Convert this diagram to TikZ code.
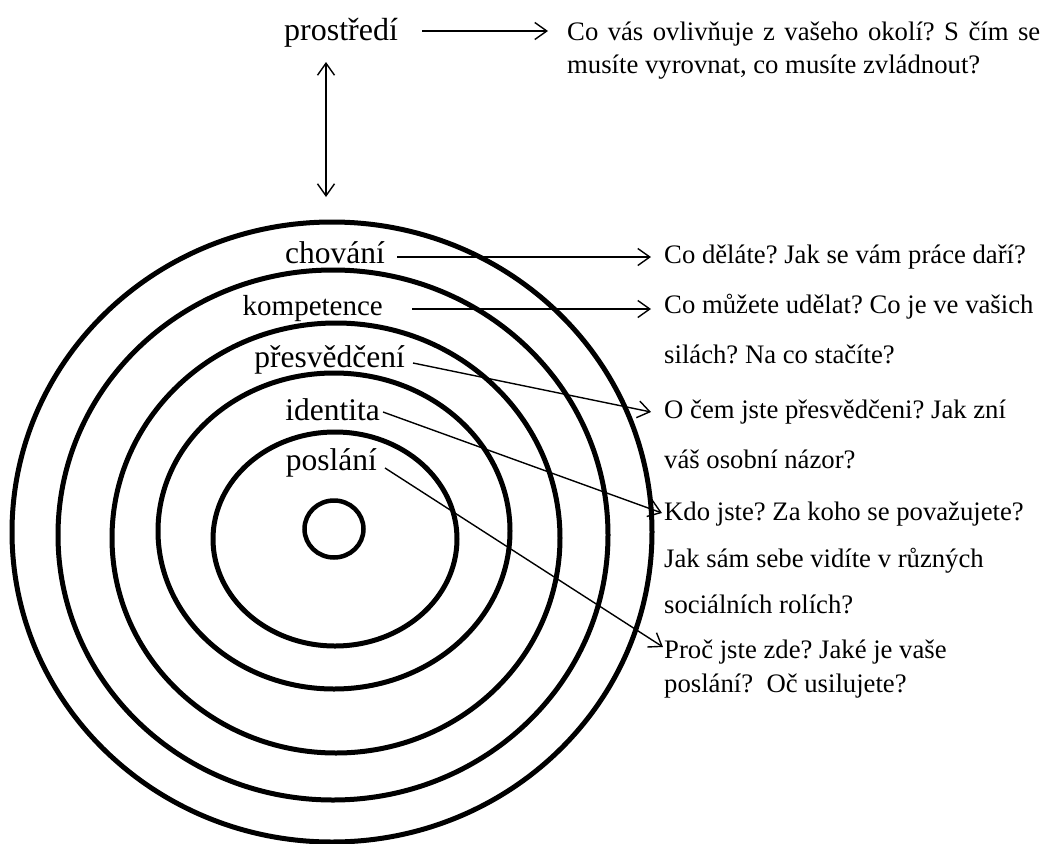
\documentclass[tikz,border=0pt]{standalone}
\usepackage{fontspec}
\setmainfont{Liberation Serif}
\usepackage{tikz}
\usetikzlibrary{arrows.meta}
\frenchspacing

\begin{document}
\begin{tikzpicture}[
    x=1pt,y=-1pt,
    ring/.style={draw,line width=5pt},
    lev/.style={inner sep=0pt,anchor=base east,font=\fontsize{31.5}{36}\selectfont},
    desc/.style={inner sep=0pt,anchor=base west,font=\fontsize{26.7}{32}\selectfont},
    arr/.style={line width=1.4pt,-{Straight Barb[length=12pt,width=17pt]}},
    darr/.style={line width=1.4pt,{Straight Barb[length=12pt,width=17pt]}-{Straight Barb[length=12pt,width=17pt]}}
    ]
        \useasboundingbox (0,0) rectangle (1045,844);
        % rings
        \draw [ring] (332,532) ellipse [x radius=320pt,y radius=310pt];
        \draw [ring] (333,535) ellipse [x radius=275pt,y radius=265pt];
        \draw [ring] (336,538) ellipse [x radius=224pt,y radius=215pt];
        \draw [ring] (334,531) ellipse [x radius=176pt,y radius=158pt];
        \draw [ring] (335,539) ellipse [x radius=122pt,y radius=107pt];
        \draw [ring,line width=4.5pt] (334,529) ellipse [x radius=29.5pt,y radius=28.5pt];
        % levels
        \node [lev,anchor=base west,font=\fontsize{32}{38}\selectfont](env) at (284,40) {prostředí};
        \node [lev](beh) at (385,263) {chování};
        \node [lev,font=\fontsize{29}{34}\selectfont](comp) at (383,315) {kompetence};
        \node [lev](bel) at (405,367) {přesvědčení};
        \node [lev](ident) at (380,420) {identita};
        \node [lev](miss) at (377,470) {poslání};
        % questions
        \node [desc](qenv) at (567,40) {\makebox[473pt][s]{Co vás ovlivňuje z vašeho okolí? S čím se}};
        \node [desc](qenv2) at (567,73) {musíte vyrovnat, co musíte zvládnout?};
        \node [desc](qbeh) at (664,263) {Co děláte? Jak se vám práce daří?};
        \node [desc](qcomp) at (664,313) {Co můžete udělat? Co je ve vašich};
        \node [desc](qcomp2) at (664,363) {silách? Na co stačíte?};
        \node [desc](qbel) at (664,418) {O čem jste přesvědčeni? Jak zní};
        \node [desc](qbel2) at (664,468) {váš osobní názor?};
        \node [desc](qident) at (664,520) {Kdo jste? Za koho se považujete?};
        \node [desc](qident2) at (664,567) {Jak sám sebe vidíte v různých};
        \node [desc](qident3) at (664,613) {sociálních rolích?};
        \node [desc](qmiss) at (664,658) {Proč jste zde? Jaké je vaše};
        \node [desc](qmiss2) at (664,692) {poslání?~~Oč usilujete?};
        \coordinate (up) at (326,62);
        \coordinate (down) at (326,197);
        \draw [arr] ([xshift=24pt,yshift=9pt]env.base east) -- ([xshift=-19pt,yshift=9pt]qenv.base west);
        \draw [darr] (up) -- (down);
        \draw [arr] ([xshift=12pt,yshift=6pt]beh.base east) -- ([xshift=-13pt,yshift=6pt]qbeh.base west);
        \draw [arr] ([xshift=29pt,yshift=6pt]comp.base east) -- ([xshift=-13pt,yshift=4pt]qcomp.base west);
        \draw [arr] ([xshift=8pt,yshift=4pt]bel.base east) -- ([xshift=-13pt,yshift=6pt]qbel.base west);
        \draw [arr] ([xshift=3pt,yshift=8pt]ident.base east) -- ([xshift=-2pt,yshift=7pt]qident.base west);
        \draw [arr] ([xshift=8pt,yshift=2pt]miss.base east) -- ([xshift=-1pt,yshift=11pt]qmiss.base west);
\end{tikzpicture}
\end{document}
